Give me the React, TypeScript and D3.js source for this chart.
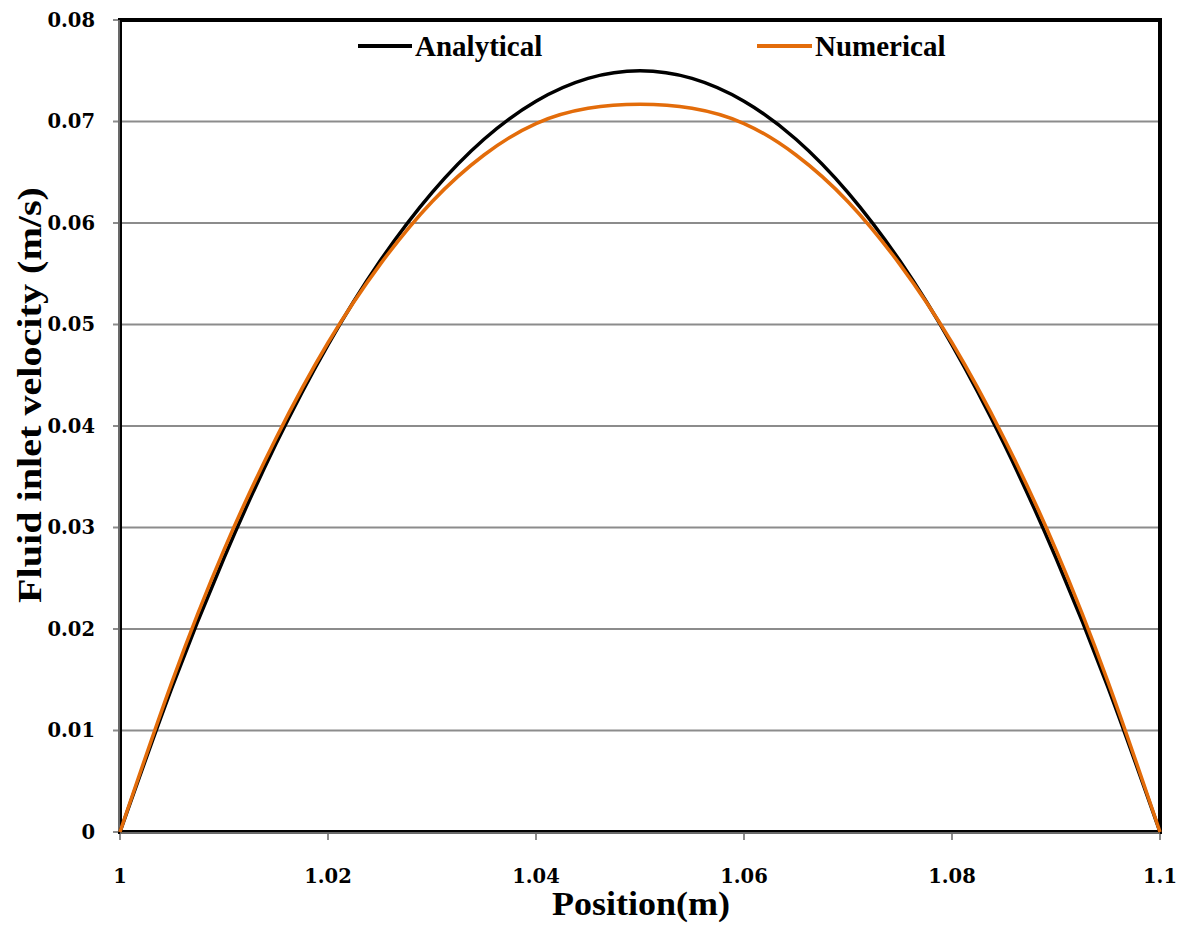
import React from "react";
import * as d3 from "d3";

const positions = [1.0, 1.005, 1.01, 1.015, 1.02, 1.025, 1.03, 1.035, 1.04, 1.045, 1.05, 1.055, 1.06, 1.065, 1.07, 1.075, 1.08, 1.085, 1.09, 1.095, 1.1];
const analytical = [0, 0.01425, 0.027, 0.03825, 0.048, 0.05625, 0.063, 0.06825, 0.072, 0.07425, 0.075, 0.07425, 0.072, 0.06825, 0.063, 0.05625, 0.048, 0.03825, 0.027, 0.01425, 0];
const numerical = [0, 0.0148, 0.0278, 0.0388, 0.0482, 0.0559, 0.0621, 0.0667, 0.0698, 0.0713, 0.0717, 0.0713, 0.0698, 0.0667, 0.0621, 0.0559, 0.0482, 0.0388, 0.0278, 0.0148, 0];
const xTicks = [1, 1.02, 1.04, 1.06, 1.08, 1.1];
const xTickLabels = ["1", "1.02", "1.04", "1.06", "1.08", "1.1"];
const yTicks = [0, 0.01, 0.02, 0.03, 0.04, 0.05, 0.06, 0.07, 0.08];
const yTickLabels = ["0", "0.01", "0.02", "0.03", "0.04", "0.05", "0.06", "0.07", "0.08"];

const W = 1185, H = 926;
const L = 120, R = 1160, T = 20, B = 832;
const font = "'Liberation Serif', 'DejaVu Serif', serif";
const tickFont = "'DejaVu Serif', 'Liberation Serif', serif";

export default function App() {
  const x = d3.scaleLinear().domain([1, 1.1]).range([L, R]);
  const y = d3.scaleLinear().domain([0, 0.08]).range([B, T]);
  const line = d3.line<number>()
    .x((_, i) => x(positions[i]))
    .y((d) => y(d))
    .curve(d3.curveNatural);
  return (
    <svg width={W} height={H} style={{ position: "absolute", left: 0, top: 0, background: "#fff" }}>
      <rect x={0} y={0} width={W} height={H} fill="#fff" />
      {yTicks.map((t, i) => (
        <g key={"y" + i}>
          <line x1={L - 7} x2={R} y1={y(t)} y2={y(t)} stroke="#8c8c8c" strokeWidth={2} />
          <text x={95} y={y(t)} dy="0.35em" textAnchor="end" fontFamily={tickFont} fontWeight="bold" fontSize={19.5} fill="#000">
            {yTickLabels[i]}
          </text>
        </g>
      ))}
      {xTicks.map((t, i) => (
        <g key={"x" + i}>
          <line x1={x(t)} x2={x(t)} y1={B} y2={B + 8} stroke="#8c8c8c" strokeWidth={2} />
          <text x={x(t)} y={883} textAnchor="middle" fontFamily={tickFont} fontWeight="bold" fontSize={19.5} fill="#000">
            {xTickLabels[i]}
          </text>
        </g>
      ))}
      <rect x={L} y={T} width={R - L} height={B - T} fill="none" stroke="#000" strokeWidth={4} />
      <line x1={L - 1} x2={L - 1} y1={T} y2={B} stroke="#8c8c8c" strokeWidth={1.5} />
      <line x1={L} x2={R} y1={B + 1} y2={B + 1} stroke="#8c8c8c" strokeWidth={1.5} />
      <path d={line(analytical) || ""} fill="none" stroke="#000" strokeWidth={3.5} />
      <path d={line(numerical) || ""} fill="none" stroke="#e36c0a" strokeWidth={3.5} />
      <g>
        <line x1={358} x2={412} y1={46} y2={46} stroke="#000" strokeWidth={4} />
        <text x={415} y={46} dy="0.35em" fontFamily={font} fontWeight="bold" fontSize={29} fill="#000">Analytical</text>
        <line x1={757} x2={812} y1={46} y2={46} stroke="#e36c0a" strokeWidth={4} />
        <text x={815} y={46} dy="0.35em" fontFamily={font} fontWeight="bold" fontSize={29} fill="#000">Numerical</text>
      </g>
      <text x={552} y={915} textLength={178} lengthAdjust="spacingAndGlyphs" fontFamily={font} fontWeight="bold" fontSize={33} fill="#000">Position(m)</text>
      <text transform={`translate(41, 603) rotate(-90)`} textLength={416} lengthAdjust="spacingAndGlyphs" fontFamily={font} fontWeight="bold" fontSize={33} fill="#000">Fluid inlet velocity (m/s)</text>
    </svg>
  );
}
